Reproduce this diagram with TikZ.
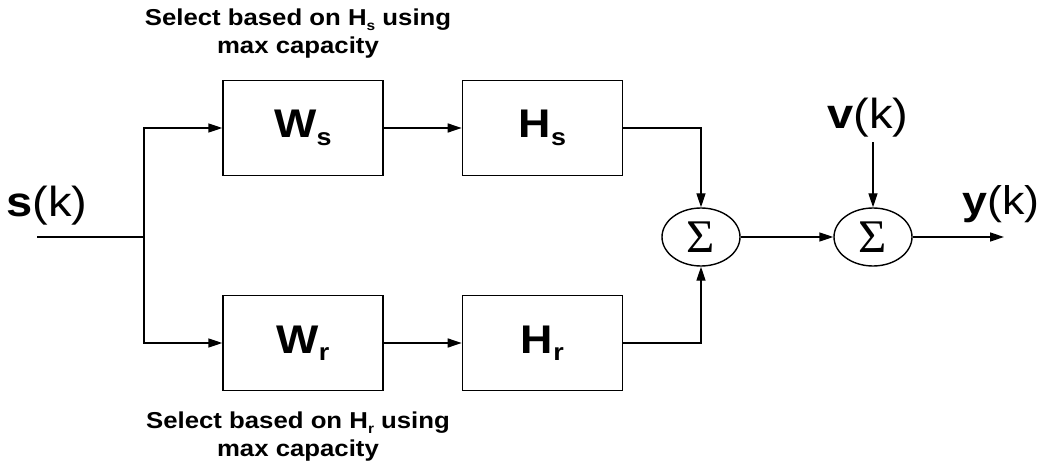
\documentclass[tikz,border=0pt]{standalone}
\usepackage{fontspec}
\setmainfont{Liberation Sans}[FakeStretch=1.12]
\newfontfamily\sumfont{Liberation Serif}
\usetikzlibrary{positioning,arrows.meta,shapes.geometric}

\newcommand{\lowsub}[1]{\raisebox{-0.35ex}{\scalebox{0.6}{#1}}}
\newcommand{\sumsign}{\scalebox{1.35}[1.3]{\sumfont\fontsize{36}{36}\selectfont Σ}}

\begin{document}
\begin{tikzpicture}[
        x=1pt, y=-1pt, line width=1.4pt,
        >={Triangle[length=14pt,width=9pt]},
        blk/.style={draw, minimum width=160pt, minimum height=95pt, inner sep=0pt, font=\fontsize{40}{40}\selectfont\bfseries},
        sum/.style={draw, ellipse, minimum width=78pt, minimum height=58pt, inner sep=0pt},
        sig/.style={inner sep=0pt, font=\fontsize{42}{42}\selectfont},
        note/.style={align=center, font=\fontsize{23}{28}\selectfont\bfseries}]
        \useasboundingbox (0,0) rectangle (1045,468);
        \node[blk] (ws) at (303,128) {W\lowsub{s}};
        \node[blk, right=78pt of ws] (hs) {H\lowsub{s}};
        \node[blk] (wr) at (303,343) {W\lowsub{r}};
        \node[blk, right=78pt of wr] (hr) {H\lowsub{r}};
        \node[sum] (s1) at (701,237) {\sumsign};
        \node[sum] (s2) at (873,237) {\sumsign};
        \node[sig] (sk) at (47,206) {\textbf{s}(k)};
        \node[sig] (vk) at (868,118) {\textbf{v}(k)};
        \node[sig, font=\fontsize{40}{40}\selectfont] (yk) at (1001,204) {\textbf{y}(k)};
        \node[note] (tnote) at (298,34) {Select based on H\lowsub{s} using\\max capacity};
        \node[note] (bnote) at (298,437) {Select based on H\lowsub{r} using\\max capacity};
        \coordinate (in) at (37,237);
        \coordinate (split) at (144,237);
        \coordinate (out) at (1004,237);
        \draw (in) -- (split);
        \draw[->] (split) |- (ws.west);
        \draw[->] (split) |- (wr.west);
        \draw[->] (ws) -- (hs);
        \draw[->] (wr) -- (hr);
        \draw[->] (hs.east) -| (s1.north);
        \draw[->] (hr.east) -| (s1.south);
        \draw[->] (s1) -- (s2);
        \draw[->] ([yshift=-4pt]s2 |- vk.south) -- (s2.north);
        \draw[->] (s2) -- (out);
    \end{tikzpicture}
\end{document}
